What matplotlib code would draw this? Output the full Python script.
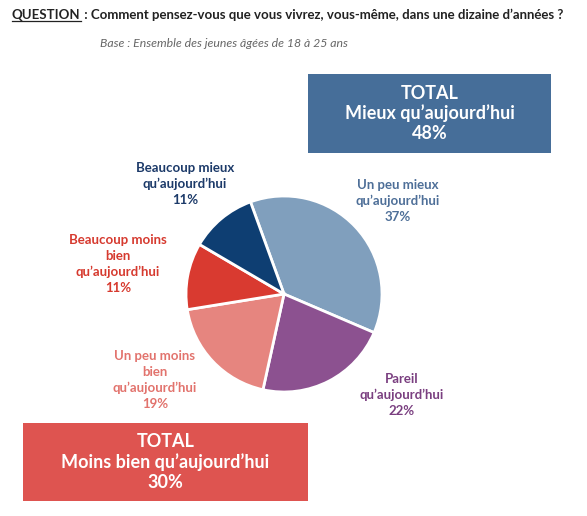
import matplotlib
matplotlib.use('Agg')
import matplotlib.pyplot as plt
from matplotlib.patches import Rectangle

plt.rcParams['font.family'] = ['Lato', 'DejaVu Sans']

# Data
categories = ["Un peu mieux\nqu\u2019aujourd\u2019hui", "Pareil\nqu\u2019aujourd\u2019hui",
              "Un peu moins\nbien\nqu\u2019aujourd\u2019hui", "Beaucoup moins\nbien\nqu\u2019aujourd\u2019hui",
              "Beaucoup mieux\nqu\u2019aujourd\u2019hui"]
values = [37, 22, 19, 11, 11]
colors = ['#809fbd', '#8c5190', '#e6857f', '#d93a30', '#0e3e72']
label_colors = ['#4e6f98', '#7a3f80', '#e2736d', '#d63a2f', '#1c3a69']
# label anchor positions (pixels, top-left origin)
label_pos = [(398, 201), (402, 395), (155, 380), (118, 264), (185, 184)]

total_labels = ["TOTAL\nMieux qu\u2019aujourd\u2019hui\n48%", "TOTAL\nMoins bien qu\u2019aujourd\u2019hui\n30%"]
total_colors = ['#466e99', '#de5450']

W, H = 587, 516
fig = plt.figure(figsize=(W / 100, H / 100), dpi=100)
bg = fig.add_axes([0, 0, 1, 1])
bg.set_xlim(0, W)
bg.set_ylim(H, 0)
bg.axis('off')

# Title
t1 = bg.text(12, 19, "QUESTION", fontsize=9.5, fontweight='bold', color='#222222', va='baseline')
fig.canvas.draw()
bb = t1.get_window_extent().transformed(bg.transData.inverted())
bg.plot([bb.x0, bb.x1], [21, 21], color='#222222', lw=0.9)
bg.text(bb.x1, 19, " : Comment pensez-vous que vous vivrez, vous-m\u00eame, dans une dizaine d\u2019ann\u00e9es ?",
        fontsize=9.5, fontweight='bold', color='#222222', va='baseline')
bg.text(100, 47, "Base : Ensemble des jeunes \u00e2g\u00e9es de 18 \u00e0 25 ans", fontsize=8.8,
        fontstyle='italic', color='#666666', va='baseline')

# Total boxes
boxes = [(308, 74, 243, 79), (23, 423, 285, 78)]
for (x, y, w, h), lab, c in zip(boxes, total_labels, total_colors):
    bg.add_patch(Rectangle((x, y), w, h, facecolor=c, edgecolor='none'))
    bg.text(x + w / 2, y + h / 2, lab, ha='center', va='center', color='white',
            fontsize=13, fontweight='bold', linespacing=1.2)

# Segment labels
for lab, v, c, (x, y) in zip(categories, values, label_colors, label_pos):
    bg.text(x, y, f"{lab}\n{v}%", ha='center', va='center', color=c, fontsize=9.5,
            fontweight='bold', linespacing=1.35)

# Pie
cx, cy, r = 284, 294, 98
pie_ax = fig.add_axes([(cx - r) / W, 1 - (cy + r) / H, 2 * r / W, 2 * r / H])
pie_ax.pie(values, colors=colors, startangle=110, counterclock=False,
           wedgeprops=dict(edgecolor='white', linewidth=2))
pie_ax.set_xlim(-1, 1)
pie_ax.set_ylim(-1, 1)

fig.savefig('out.png', dpi=100)
